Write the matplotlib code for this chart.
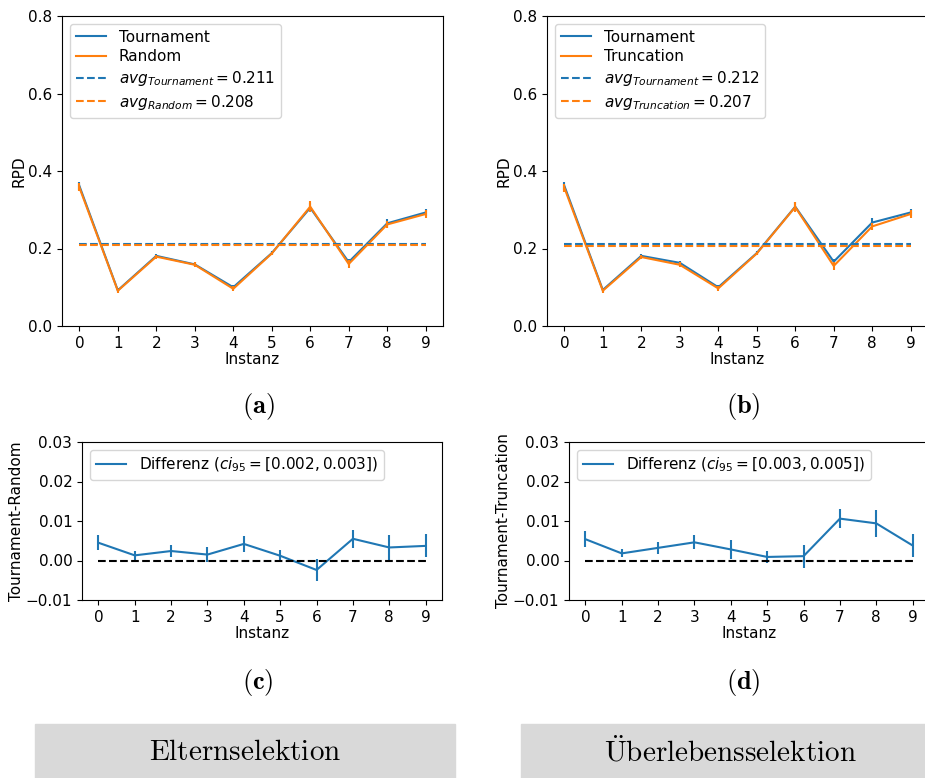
import numpy as np
import matplotlib
matplotlib.use("Agg")
import matplotlib.pyplot as plt

# Daten
instanz = np.arange(10)

# (a) Elternselektion: Tournament vs Random
tour_a = [0.362, 0.092, 0.181, 0.159, 0.100, 0.188, 0.305, 0.165, 0.265, 0.293]
tour_a_err = [0.010, 0.005, 0.005, 0.005, 0.006, 0.005, 0.012, 0.008, 0.012, 0.010]
rand_a = [0.358, 0.091, 0.179, 0.158, 0.096, 0.187, 0.308, 0.160, 0.262, 0.289]
rand_a_err = [0.010, 0.005, 0.005, 0.006, 0.006, 0.005, 0.014, 0.010, 0.010, 0.011]
avg_tour_a = 0.211
avg_rand_a = 0.208

# (b) Ueberlebensselektion: Tournament vs Truncation
tour_b = [0.362, 0.093, 0.181, 0.163, 0.100, 0.188, 0.308, 0.166, 0.267, 0.293]
tour_b_err = [0.010, 0.005, 0.005, 0.006, 0.006, 0.005, 0.012, 0.008, 0.012, 0.010]
trunc_b = [0.357, 0.091, 0.178, 0.158, 0.097, 0.187, 0.307, 0.155, 0.257, 0.289]
trunc_b_err = [0.010, 0.005, 0.005, 0.006, 0.006, 0.005, 0.014, 0.010, 0.010, 0.011]
avg_tour_b = 0.212
avg_trunc_b = 0.207

# (c) / (d) Differenzen
diff_c = [0.0045, 0.0013, 0.0024, 0.0015, 0.0042, 0.0012, -0.0024, 0.0055, 0.0033, 0.0037]
diff_c_err = [0.0019, 0.0011, 0.0015, 0.0020, 0.0020, 0.0015, 0.0028, 0.0023, 0.0031, 0.0029]
ci_c = "[0.002, 0.003]"
diff_d = [0.0054, 0.0018, 0.0032, 0.0046, 0.0028, 0.0009, 0.0011, 0.0106, 0.0094, 0.0038]
diff_d_err = [0.0020, 0.0010, 0.0015, 0.0018, 0.0024, 0.0015, 0.0029, 0.0024, 0.0034, 0.0030]
ci_d = "[0.003, 0.005]"

spalten = ["Elternselektion", r"\ddot{U}berlebensselektion"]

blue = "#1f77b4"
orange = "#ff7f0e"
plt.rcParams["font.size"] = 11

W, H = 925, 778
fig = plt.figure(figsize=(W / 100, H / 100), dpi=100)


def box(x0, y0, x1, y1):
    # Pixelkoordinaten -> Figurenanteile
    return [x0 / W, 1 - y1 / H, (x1 - x0) / W, (y1 - y0) / H]


def top_plot(ax, t, t_err, o, o_err, name, avg_t, avg_o):
    ax.plot(instanz, t, color=blue, label="Tournament")
    ax.errorbar(instanz, t, yerr=t_err, color=blue, fmt="none")
    ax.plot(instanz, o, color=orange, label=name)
    ax.errorbar(instanz, o, yerr=o_err, color=orange, fmt="none")
    ax.hlines(avg_t, instanz[0], instanz[-1], colors=blue, linestyles="--",
              label=r"$avg_{Tournament} = %.3f$" % avg_t)
    ax.hlines(avg_o, instanz[0], instanz[-1], colors=orange, linestyles="--",
              label=r"$avg_{%s} = %.3f$" % (name, avg_o))
    ax.set_ylim(0, 0.8)
    ax.set_yticks([0.0, 0.2, 0.4, 0.6, 0.8])
    ax.set_xticks(instanz)
    ax.set_xlabel("Instanz", labelpad=1)
    ax.set_ylabel("RPD", labelpad=1)
    ax.legend(loc="upper left", labelspacing=0.3)


def diff_plot(ax, d, d_err, ci, ylabel):
    ax.plot(instanz, d, color=blue, label=r"Differenz ($ci_{95} = %s$)" % ci)
    ax.errorbar(instanz, d, yerr=d_err, color=blue, fmt="none")
    ax.hlines(0, instanz[0], instanz[-1], colors="black", linestyles="--")
    ax.set_ylim(-0.01, 0.03)
    ax.set_yticks([-0.01, 0.0, 0.01, 0.02, 0.03])
    ax.set_xticks(instanz)
    ax.set_xlabel("Instanz", labelpad=1)
    ax.set_ylabel(ylabel, labelpad=1)
    ax.legend(loc="upper left")


ax_a = fig.add_axes(box(62, 16, 443, 326))
top_plot(ax_a, tour_a, tour_a_err, rand_a, rand_a_err, "Random", avg_tour_a, avg_rand_a)
ax_b = fig.add_axes(box(547, 16, 928, 326))
top_plot(ax_b, tour_b, tour_b_err, trunc_b, trunc_b_err, "Truncation", avg_tour_b, avg_trunc_b)

ax_c = fig.add_axes(box(82, 442, 442, 600))
diff_plot(ax_c, diff_c, diff_c_err, ci_c, "Tournament-Random")
ax_d = fig.add_axes(box(569, 442, 929, 600))
diff_plot(ax_d, diff_d, diff_d_err, ci_d, "Tournament-Truncation")

# Unterschriften
for label, x, y in [("(a)", 258, 407), ("(b)", 743, 407), ("(c)", 258, 683), ("(d)", 743, 683)]:
    fig.text(x / W, 1 - y / H, r"$\mathbf{%s}$" % label, ha="center", va="center",
             fontsize=19, math_fontfamily="cm")

# graue Kaesten unten
for text, x0, x1, xc in [(spalten[0], 35, 455, 245), (spalten[1], 521, 940, 730)]:
    fig.patches.append(plt.Rectangle((x0 / W, 0), (x1 - x0) / W, (H - 724) / H,
                                     transform=fig.transFigure, color="#d9d9d9", zorder=0))
    fig.text(xc / W, 1 - 752 / H, r"$\mathrm{%s}$" % text, ha="center", va="center",
             fontsize=21, math_fontfamily="cm")

fig.savefig("out.png", dpi=100)
